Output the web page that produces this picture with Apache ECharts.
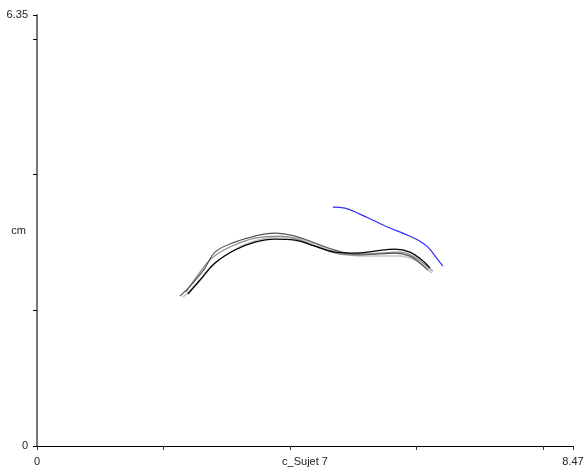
<!DOCTYPE html>
<html><head><meta charset="utf-8">
<script src="https://cdn.jsdelivr.net/npm/echarts@6/dist/echarts.min.js"></script>
<style>html,body{margin:0;padding:0;background:#fff}#c{width:586px;height:472px}</style>
</head><body><div id="c"></div>
<script>
var xMax = 8.47, yMax = 6.35;
var xAxisName = 'c_Sujet 7', yAxisName = 'cm';

var blueX = [4.676,4.866,5.103,5.340,5.577,5.814,6.019,6.177,6.303,6.414];
var blueY = [3.520,3.505,3.417,3.314,3.211,3.122,3.034,2.931,2.784,2.651];

var c1X = [2.385,2.575,2.812,3.128,3.444,3.760,4.076,4.392,4.708,5.024,5.340,5.656,5.893,6.082,6.209];
var c1Y = [2.239,2.445,2.695,2.887,3.004,3.049,3.034,2.946,2.857,2.842,2.872,2.901,2.857,2.739,2.622];

var c2X = [2.259,2.449,2.654,2.812,3.128,3.444,3.760,4.076,4.392,4.708,5.024,5.340,5.656,5.893,6.051,6.177];
var c2Y = [2.209,2.386,2.622,2.857,3.004,3.093,3.137,3.093,2.990,2.887,2.828,2.828,2.842,2.798,2.695,2.592];

var c3X = [2.306,2.543,2.765,3.081,3.444,3.807,4.155,4.471,4.787,5.103,5.419,5.735,5.972,6.130,6.240];
var c3Y = [2.194,2.401,2.651,2.872,3.019,3.078,3.049,2.946,2.842,2.798,2.798,2.798,2.739,2.636,2.548];

var c4X = [2.354,2.575,2.765,3.049,3.444,3.839,4.155,4.471,4.787,5.103,5.419,5.735,5.940,6.098,6.256];
var c4Y = [2.268,2.563,2.769,2.931,3.063,3.093,3.034,2.916,2.828,2.813,2.842,2.857,2.798,2.695,2.577];

function zip(xs, ys){ return xs.map(function(x,i){ return [x, ys[i]]; }); }
function ser(xs, ys, color, w){
  return {type:'line', data:zip(xs,ys), smooth:0.4, symbol:'none',
    lineStyle:{color:color, width:w}, silent:true, z:2};
}

var chart = echarts.init(document.getElementById('c'));
chart.setOption({
  animation:false,
  grid:{left:37, right:13, top:15, bottom:26, containLabel:false, outerBoundsMode:'none'},
  xAxis:{type:'value', min:0, max:xMax, interval:2,
    name:xAxisName, nameLocation:'middle', nameGap:10, nameMoveOverlap:false,
    nameTextStyle:{color:'#222', fontSize:11, fontFamily:'Liberation Sans', verticalAlign:'top'},
    axisLine:{show:true, onZero:false, lineStyle:{color:'#000', width:1}},
    axisTick:{show:true, inside:false, length:4, lineStyle:{color:'#333'}},
    axisLabel:{show:true, margin:10, color:'#222', fontSize:11, fontFamily:'Liberation Sans',
      formatter:function(v){ return (v===0) ? '0' : (Math.abs(v-xMax)<1e-6 ? String(xMax) : ''); },
      showMinLabel:true, showMaxLabel:true, verticalAlign:'top'},
    splitLine:{show:false}},
  yAxis:{type:'value', min:0, max:yMax, interval:2,
    name:yAxisName, nameLocation:'middle', nameGap:11, nameRotate:0, nameMoveOverlap:false,
    nameTextStyle:{color:'#222', fontSize:11, fontFamily:'Liberation Sans', align:'right', verticalAlign:'middle'},
    axisLine:{show:true, onZero:false, lineStyle:{color:'#777', width:2}},
    axisTick:{show:true, inside:false, length:4, lineStyle:{color:'#000'}},
    axisLabel:{show:true, margin:9, color:'#222', fontSize:11, fontFamily:'Liberation Sans',
      formatter:function(v){ return (v===0) ? '0' : (Math.abs(v-yMax)<1e-6 ? String(yMax) : ''); },
      showMinLabel:true, showMaxLabel:true},
    splitLine:{show:false}},
  series:[
    ser(c3X, c3Y, '#c4c4c4', 1.5),
    ser(c4X, c4Y, '#8a8a8a', 1.2),
    ser(c2X, c2Y, '#555555', 1.2),
    ser(c1X, c1Y, '#000000', 1.3),
    ser(blueX, blueY, '#2f2ff2', 1.2)
  ]
});
</script></body></html>
